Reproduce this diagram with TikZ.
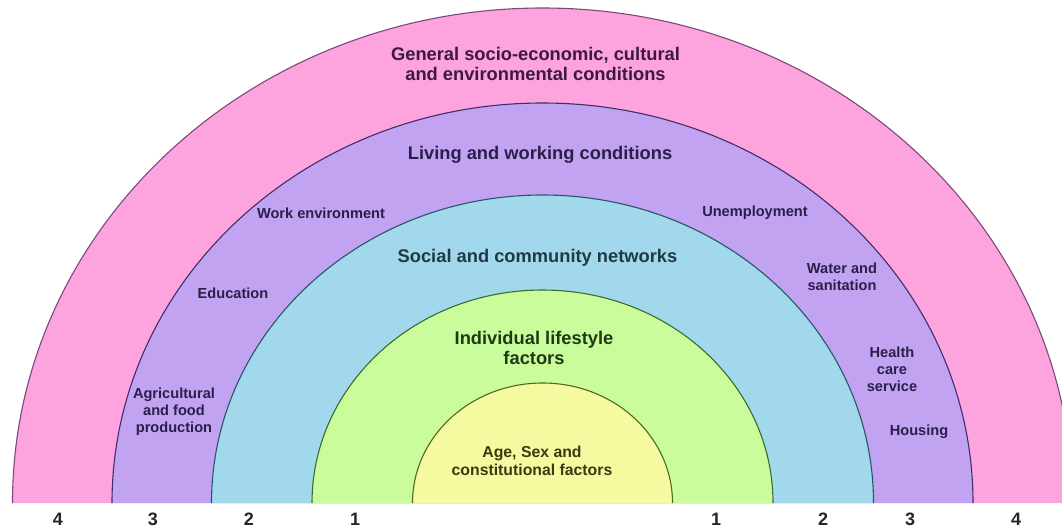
\documentclass[tikz,border=0pt]{standalone}
\usepackage{fontspec}
\setmainfont{Liberation Sans}
\definecolor{bandpink}{HTML}{FDA4DF}
\definecolor{bandpurple}{HTML}{C2A3F2}
\definecolor{bandblue}{HTML}{A2D8EB}
\definecolor{bandgreen}{HTML}{CBFC9C}
\definecolor{bandyellow}{HTML}{F5FAA0}
\definecolor{edgepink}{HTML}{7A4A7A}
\definecolor{edgepurple}{HTML}{3D2F6A}
\definecolor{edgeblue}{HTML}{2A5566}
\definecolor{edgegreen}{HTML}{3B6B2E}
\definecolor{edgeyellow}{HTML}{4C6A22}
\definecolor{txtpink}{HTML}{3D1A3D}
\definecolor{txtpurple}{HTML}{2A1F4A}
\definecolor{txtblue}{HTML}{1F3A45}
\definecolor{txtgreen}{HTML}{1E3A14}
\definecolor{txtyellow}{HTML}{3A3A10}
\tikzset{
  mainlabel/.style={align=center, inner sep=0pt, font=\bfseries\fontsize{18.3}{20.5}\selectfont},
  smalllabel/.style={align=center, inner sep=0pt, font=\bfseries\fontsize{14.6}{17}\selectfont},
  agelabel/.style={align=center, inner sep=0pt, font=\bfseries\fontsize{15.8}{18}\selectfont},
  numlabel/.style={inner sep=0pt, font=\bfseries\fontsize{18}{20}\selectfont, text=black!85},
  edgeline/.style={line width=1.1pt}
}
\begin{document}
\begin{tikzpicture}[x=1pt,y=-1pt]
\useasboundingbox (0,0) rectangle (1062,531);
\clip (0,0) rectangle (1062,531);
\fill[white] (0,0) rectangle (1062,531);
\coordinate (c) at (542.5,503);
% bands (outer to inner)
\fill[bandpink] (542.5-530,503) arc[start angle=180,end angle=360,x radius=530,y radius=495] -- cycle;
\draw[edgepink,edgeline] (542.5-530,503) arc[start angle=180,end angle=360,x radius=530,y radius=495];
\fill[bandpurple] (542.5-430.5,503) arc[start angle=180,end angle=360,x radius=430.5,y radius=400] -- cycle;
\draw[edgepurple,edgeline] (542.5-430.5,503) arc[start angle=180,end angle=360,x radius=430.5,y radius=400];
\fill[bandblue] (542.5-331,503) arc[start angle=180,end angle=360,x radius=331,y radius=308] -- cycle;
\draw[edgeblue,edgeline] (542.5-331,503) arc[start angle=180,end angle=360,x radius=331,y radius=308];
\fill[bandgreen] (542.5-230.5,503) arc[start angle=180,end angle=360,x radius=230.5,y radius=213] -- cycle;
\draw[edgegreen,edgeline] (542.5-230.5,503) arc[start angle=180,end angle=360,x radius=230.5,y radius=213];
\fill[bandyellow] (542.5-130,503) arc[start angle=180,end angle=360,x radius=130,y radius=120] -- cycle;
\draw[edgeyellow,edgeline] (542.5-130,503) arc[start angle=180,end angle=360,x radius=130,y radius=120];
% main labels
\node[mainlabel,text=txtpink] (gen) at (535.5,64) {General socio-economic, cultural\\and environmental conditions};
\node[mainlabel,text=txtpurple] (living) at (540,155) {Living and working conditions};
\node[mainlabel,text=txtblue] (social) at (537.5,258) {Social and community networks};
\node[mainlabel,text=txtgreen] (indiv) at (534,348) {Individual lifestyle\\factors};
\node[agelabel,text=txtyellow] (age) at (532,461) {Age, Sex and\\constitutional factors};
% small labels in the living & working band
\node[smalllabel,text=txtpurple] (work) at (321,213) {Work environment};
\node[smalllabel,text=txtpurple] (unemp) at (755,213) {Unemployment};
\node[smalllabel,text=txtpurple] (edu) at (233,293) {Education};
\node[smalllabel,text=txtpurple] (water) at (842,277) {Water and\\sanitation};
\node[smalllabel,text=txtpurple] (health) at (892,369) {Health\\care\\service};
\node[smalllabel,text=txtpurple] (housing) at (919,432) {Housing};
\node[smalllabel,text=txtpurple] (agri) at (174,412) {Agricultural\\and food\\production};
% layer numbers
\node[numlabel] (l4) at (58,519) {4};
\node[numlabel] (l3) at (153,519) {3};
\node[numlabel] (l2) at (249,519) {2};
\node[numlabel] (l1) at (355,519) {1};
\node[numlabel] (r1) at (716,519) {1};
\node[numlabel] (r2) at (823,519) {2};
\node[numlabel] (r3) at (910,519) {3};
\node[numlabel] (r4) at (1016,519) {4};
\end{tikzpicture}
\end{document}
